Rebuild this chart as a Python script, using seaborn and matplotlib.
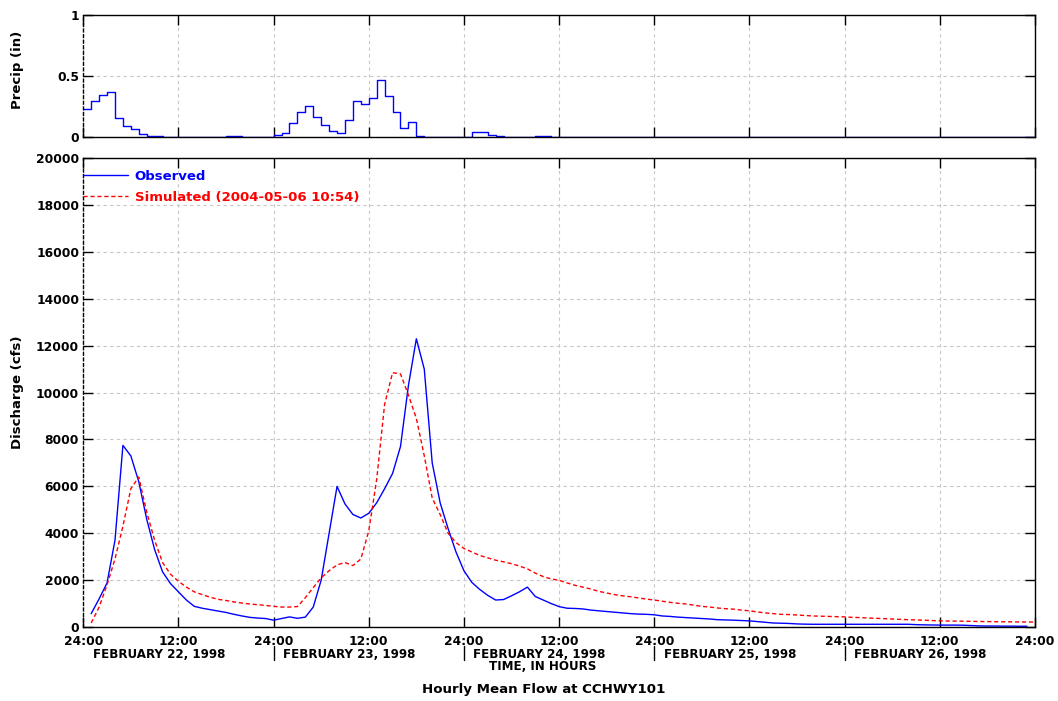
import numpy as np
import pandas as pd
import matplotlib
matplotlib.use("Agg")
import matplotlib.pyplot as plt
import matplotlib.transforms as mtransforms
import seaborn as sns

# ---------------- data ----------------
tick_hours = [0, 12, 24, 36, 48, 60, 72, 84, 96, 108, 120]
tick_labels = ["24:00", "12:00", "24:00", "12:00", "24:00", "12:00",
               "24:00", "12:00", "24:00", "12:00", "24:00"]
day_starts = [0, 24, 48, 72, 96]
day_labels = ["FEBRUARY 22, 1998", "FEBRUARY 23, 1998", "FEBRUARY 24, 1998",
              "FEBRUARY 25, 1998", "FEBRUARY 26, 1998"]

# hourly precipitation (in), hours 0..119
precip = [0.23, 0.29, 0.34, 0.37, 0.15, 0.085, 0.067, 0.022, 0.006, 0.006,
          0, 0, 0, 0, 0, 0, 0, 0, 0.005, 0.005,
          0, 0, 0, 0, 0.014, 0.028, 0.11, 0.20, 0.255, 0.16,
          0.094, 0.047, 0.028, 0.136, 0.29, 0.267, 0.317, 0.464, 0.333, 0.20,
          0.069, 0.12, 0.006, 0, 0, 0, 0, 0, 0, 0.036,
          0.036, 0.017, 0.008, 0, 0, 0, 0, 0.005, 0.005, 0] + [0] * 60

# observed discharge (cfs), hours 1..119
observed = [570, 1200, 1880, 3700, 7750, 7300, 6200, 4600, 3300, 2350,
            1850, 1500, 1150, 880, 800, 740, 680, 620, 540, 470,
            410, 380, 360, 290, 360, 430, 370, 420, 850, 2000,
            4000, 6000, 5250, 4800, 4650, 4850, 5300, 5900, 6550, 7700,
            10300, 12300, 11000, 7000, 5300, 4200, 3200, 2400, 1900, 1600,
            1350, 1150, 1170, 1330, 1500, 1700, 1300, 1150, 1000, 870,
            800, 790, 770, 720, 690, 660, 630, 600, 570, 550,
            540, 520, 470, 450, 420, 400, 380, 360, 340, 310,
            300, 290, 275, 260, 230, 200, 170, 160, 150, 130,
            120, 115, 115, 115, 115, 115, 115, 115, 115, 115,
            115, 115, 115, 115, 100, 90, 85, 80, 80, 80,
            75, 60, 45, 40, 40, 35, 35, 30, 30]

# simulated discharge (cfs), hours 1..120
simulated = [170, 850, 1800, 2900, 4300, 5900, 6400, 4900, 3700, 2750,
             2250, 1950, 1700, 1500, 1380, 1270, 1180, 1130, 1070, 1020,
             980, 950, 920, 880, 850, 850, 870, 1250, 1680, 2100,
             2400, 2650, 2750, 2620, 2900, 4100, 6300, 9500, 10850, 10800,
             9900, 8900, 7300, 5500, 4800, 4000, 3600, 3350, 3200, 3050,
             2950, 2850, 2780, 2700, 2600, 2480, 2300, 2150, 2050, 1990,
             1880, 1780, 1700, 1620, 1520, 1450, 1380, 1330, 1290, 1240,
             1190, 1150, 1100, 1050, 1010, 980, 930, 880, 850, 810,
             780, 760, 720, 690, 640, 600, 570, 540, 530, 510,
             490, 470, 460, 450, 440, 430, 410, 400, 380, 370,
             355, 340, 325, 310, 300, 290, 275, 260, 255, 250,
             245, 240, 235, 230, 225, 220, 218, 215, 212, 210]

obs_df = pd.DataFrame({"hour": np.arange(1, len(observed) + 1), "flow": observed})
sim_df = pd.DataFrame({"hour": np.arange(1, len(simulated) + 1), "flow": simulated})
pre_df = pd.DataFrame({"hour": np.arange(0, len(precip) + 1), "p": precip + [0]})

# ---------------- style ----------------
sns.set_theme(style="white")
plt.rcParams['font.family'] = ['DejaVu Sans']
plt.rcParams['font.weight'] = 'bold'
plt.rcParams['text.color'] = 'black'
plt.rcParams['axes.labelcolor'] = 'black'
FS_TICK = 8.8
FS_UPPER = 8.6
FS_TITLE = 9.6
FS_LEG = 9.5
FS_YLAB = 9.5

fig = plt.figure(figsize=(10.58, 7.01), dpi=100)
ax1 = fig.add_axes([0.0787, 0.805, 0.8995, 0.1736])
ax2 = fig.add_axes([0.0787, 0.1056, 0.8995, 0.6686])

def style(ax):
    ax.grid(True, color='#c8c8c8', linestyle=(0, (3, 3)), linewidth=0.8)
    ax.tick_params(direction='in', length=7, width=1, top=True, right=True,
                   bottom=True, left=True, colors='black', labelsize=FS_TICK, pad=3)
    for s in ax.spines.values():
        s.set_color('black')
        s.set_linewidth(1)
        s.set_visible(True)
    ax.spines['left'].set_linestyle((0, (2, 2)))
    ax.set_xlim(0, 120)
    ax.set_xticks(tick_hours)

# ---------------- precip panel ----------------
sns.lineplot(data=pre_df, x="hour", y="p", ax=ax1, color='blue',
             drawstyle='steps-post', linewidth=1)
style(ax1)
ax1.set_ylim(0, 1)
ax1.set_yticks([0, 0.5, 1])
ax1.set_yticklabels(["0", "0.5", "1"], fontweight='bold', fontsize=FS_TICK)
ax1.set_xticklabels([])
ax1.set_xlabel("")
ax1.set_ylabel("")

# ---------------- discharge panel ----------------
sns.lineplot(data=obs_df, x="hour", y="flow", ax=ax2, color='blue',
             linewidth=1, label="Observed")
sns.lineplot(data=sim_df, x="hour", y="flow", ax=ax2, color='red',
             linewidth=1, linestyle=(0, (3, 2)),
             label="Simulated (2004-05-06 10:54)")
style(ax2)
ax2.set_ylim(0, 20000)
yt = list(range(0, 20001, 2000))
ax2.set_yticks(yt)
ax2.set_yticklabels([str(v) for v in yt], fontweight='bold', fontsize=FS_TICK)
ax2.set_xticklabels(tick_labels, fontweight='bold', fontsize=FS_TICK)
ax2.tick_params(axis='x', pad=5.5)
ax2.set_xlabel("")
ax2.set_ylabel("")

leg = ax2.legend(loc='upper left', bbox_to_anchor=(0.0, 0.975), borderaxespad=0,
                 borderpad=0, frameon=False, handlelength=3.4, handletextpad=0.5,
                 labelspacing=0.6, prop={'weight': 'bold', 'size': FS_LEG},
                 labelcolor='linecolor')

trans = mtransforms.blended_transform_factory(ax2.transData, ax2.transAxes)
for d, lab in zip(day_starts, day_labels):
    ax2.text(d + 1.2, -0.058, lab, transform=trans, ha='left', va='center',
             fontsize=FS_UPPER, fontweight='bold', color='black')
    if d > 0:
        ax2.plot([d, d], [-0.040, -0.070], transform=trans, color='black',
                 linewidth=1, clip_on=False)

fig.text(0.513, 1 - 666 / 701, "TIME, IN HOURS", ha='center', va='center',
         fontsize=FS_UPPER, fontweight='bold', color='black')
fig.text(0.514, 1 - 690 / 701, "Hourly Mean Flow at CCHWY101", ha='center',
         va='center', fontsize=FS_TITLE, fontweight='bold', color='black')
fig.text(0.017, 1 - 70 / 701, "Precip (in)", rotation=90, ha='center',
         va='center', fontsize=FS_YLAB, fontweight='bold', color='black')
fig.text(0.017, 1 - 392 / 701, "Discharge (cfs)", rotation=90, ha='center',
         va='center', fontsize=FS_YLAB, fontweight='bold', color='black')

fig.savefig("out.png", dpi=100, facecolor='white')
